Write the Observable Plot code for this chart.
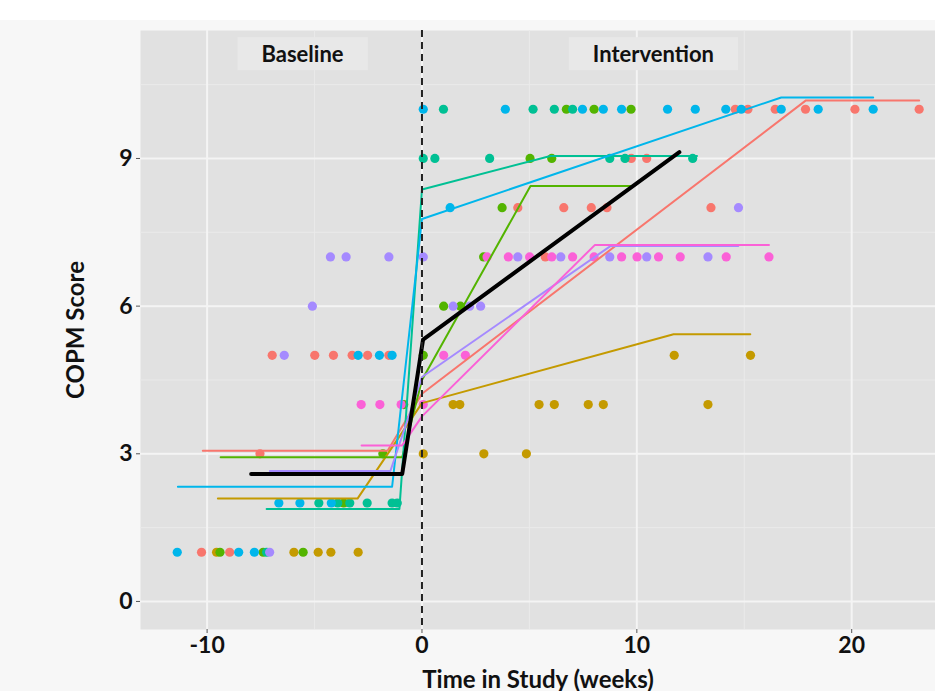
<!DOCTYPE html>
<html><head><meta charset="utf-8">
<script src="https://cdn.jsdelivr.net/npm/d3@7"></script>
<script src="https://cdn.jsdelivr.net/npm/@observablehq/plot@0.6"></script>
<style>
html,body{margin:0;padding:0;background:#fff;}
#wrap{position:absolute;left:0;top:20px;width:935px;height:671px;background:#f7f7f7;overflow:hidden;}
</style></head><body><div id="wrap"></div>
<script>
// participants & colours (ggplot hue palette)
const participants = ["P1","P2","P3","P4","P5","P6","P7"];
const colors = ["#F8766D","#C49A00","#53B400","#00C094","#00B6EB","#A58AFF","#FB61D7"];

// observed COPM scores: [week, score]
const p1Obs = [[-10.26,1],[-8.95,1],[-7.54,3],[-6.97,5],[-4.99,5],[-4.12,5],[-3.25,5],[-2.53,5],[-1.54,5],[4.46,8],[5.74,7],[6.6,8],[7.88,8],[8.61,8],[9.74,9],[10.46,9],[13.45,8],[14.58,10],[15.17,10],[16.44,10],[17.85,10],[20.15,10],[23.14,10]];
const p2Obs = [[-9.56,1],[-5.96,1],[-4.83,1],[-4.24,1],[-2.97,1],[0.06,3],[1.45,4],[1.76,4],[2.88,3],[4.86,3],[5.45,4],[6.16,4],[7.74,4],[8.44,4],[11.74,5],[13.31,4],[15.29,5]];
const p3Obs = [[-9.40,1],[-7.39,1],[-5.53,1],[-3.64,2],[-1.82,3],[-0.85,4],[0.06,5],[1.01,6],[1.79,6],[2.87,7],[3.73,8],[5.03,9],[6.04,9],[6.72,10],[8.01,10],[9.73,10]];
const p4Obs = [[-7.23,1],[-4.80,2],[-3.92,2],[-3.36,2],[-2.55,2],[-1.39,2],[-1.15,2],[0.06,9],[0.6,9],[1.0,10],[3.15,9],[5.17,10],[6.16,10],[7.01,10],[8.74,9],[9.45,9],[12.6,9]];
const p5Obs = [[-11.39,1],[-8.53,1],[-7.80,1],[-6.66,2],[-5.68,2],[-4.22,2],[-2.97,5],[-1.98,5],[-1.39,5],[0.06,10],[1.31,8],[3.88,10],[7.47,10],[8.44,10],[9.29,10],[11.43,10],[12.72,10],[14.14,10],[14.86,10],[16.72,10],[18.44,10],[21.0,10]];
const p6Obs = [[-7.09,1],[-6.41,5],[-5.1,6],[-4.26,7],[-3.53,7],[-1.54,7],[0.06,7],[1.45,6],[2.22,6],[2.73,6],[4.46,7],[6.46,7],[8.74,7],[10.46,7],[13.31,7],[14.73,8]];
const p7Obs = [[-2.83,4],[-1.96,4],[-0.97,4],[0.06,4],[1.01,5],[2.02,5],[3.03,7],[4.02,7],[5.01,7],[6.04,7],[7.01,7],[8.01,7],[9.29,7],[10.01,7],[11.01,7],[12.02,7],[14.16,7],[16.15,7]];

// fitted trajectories: [week, score]
const p1Fit = [[-10.2,3.06],[-1.6,3.06],[0,4.22],[17.87,10.18],[23.14,10.18]];
const p2Fit = [[-9.5,2.09],[-3.0,2.09],[0,4.03],[11.71,5.43],[15.28,5.43]];
const p3Fit = [[-9.37,2.93],[-0.92,2.93],[0,4.5],[5.05,8.44],[9.7,8.44]];
const p4Fit = [[-7.23,1.88],[-1.05,1.88],[0,8.37],[5.98,9.05],[12.8,9.05]];
const p5Fit = [[-11.36,2.33],[-1.39,2.33],[0,7.77],[16.72,10.24],[21.0,10.24]];
const p6Fit = [[-7.08,2.65],[-1.47,2.65],[0,4.56],[8.77,7.22],[14.72,7.22]];
const p7Fit = [[-2.81,3.17],[-0.92,3.17],[0,3.76],[8.04,7.24],[16.15,7.24]];
const meanFit = [[-7.95,2.59],[-0.92,2.59],[0.05,5.32],[11.98,9.13]];

// axes
const xTicks = [-10, 0, 10, 20];
const yTicks = [0, 3, 6, 9];
const xMinor = [-5, 5, 15];
const yMinor = [1.5, 4.5, 7.5, 10.5];
const phaseNames = ["Baseline", "Intervention"];
const phaseX = [-5.56, 10.77];
const phaseY = [11.1, 11.1];
const interventionStart = [0];

const obsAll = [p1Obs,p2Obs,p3Obs,p4Obs,p5Obs,p6Obs,p7Obs];
const fitAll = [p1Fit,p2Fit,p3Fit,p4Fit,p5Fit,p6Fit,p7Fit];
const points = participants.flatMap((p,i) => obsAll[i].map(([t,s]) => ({p,t,s})));
const fits = participants.flatMap((p,i) => fitAll[i].map(([t,s]) => ({p,t,s})));
const mean = meanFit.map(([t,s]) => ({t,s}));
const phases = phaseNames.map((name,i) => ({name, x: phaseX[i], y: phaseY[i]}));

const plot = Plot.plot({
  width: 935, height: 671,
  marginTop: 10, marginBottom: 62, marginLeft: 140, marginRight: 0,
  style: {background: "transparent", fontFamily: "Lato, 'Open Sans', sans-serif", fontSize: "20px", fontWeight: "bold", color: "#111"},
  x: {domain: [-13.1, 23.9]},
  y: {domain: [-0.57, 11.6]},
  color: {domain: participants, range: colors},
  marks: [
    Plot.frame({fill: "#e1e1e1", stroke: "none"}),
    Plot.gridX(xMinor, {stroke: "#eaeaea", strokeOpacity: 1, strokeWidth: 1}),
    Plot.gridY(yMinor, {stroke: "#eaeaea", strokeOpacity: 1, strokeWidth: 1}),
    Plot.gridX(xTicks, {stroke: "#f4f4f4", strokeOpacity: 1, strokeWidth: 2}),
    Plot.gridY(yTicks, {stroke: "#f4f4f4", strokeOpacity: 1, strokeWidth: 2}),
    Plot.axisX(xTicks, {tickSize: 4, tickPadding: 3, stroke: "#555", fill: "#111", fontSize: 23, fontWeight: "bold",
      tickFormat: d => `${d}`, label: null}),
    Plot.axisY(yTicks, {tickSize: 4, tickPadding: 4, stroke: "#555", fill: "#111", fontSize: 23, fontWeight: "bold",
      tickFormat: d => `${d}`, label: null}),
    Plot.axisX({ticks: [], tickSize: 0, label: "Time in Study (weeks)", labelAnchor: "center", labelOffset: 58, labelArrow: "none", fontSize: 24, fontWeight: "bold", fill: "#111"}),
    Plot.axisY({ticks: [], tickSize: 0, label: "COPM Score", labelAnchor: "center", labelOffset: 74, labelArrow: "none", fontSize: 24, fontWeight: "bold", fill: "#111"}),
    Plot.dot(points, {x: "t", y: "s", fill: "p", r: 4.6, stroke: "none"}),
    Plot.line(fits, {x: "t", y: "s", z: "p", stroke: "p", strokeWidth: 2}),
    Plot.line(mean, {x: "t", y: "s", stroke: "black", strokeWidth: 4}),
    Plot.ruleX(interventionStart, {stroke: "#222", strokeWidth: 2, strokeDasharray: "7,5"}),
    Plot.text(phases, {x: "x", y: "y", text: "name", fontSize: 22, fontWeight: "bold", fill: "#111"})
  ]
});
document.getElementById("wrap").appendChild(plot);

// light label boxes behind the phase labels
const svgRect = plot.getBoundingClientRect();
plot.querySelectorAll("text").forEach(t => {
  if (!phaseNames.includes(t.textContent)) return;
  const b = t.getBoundingClientRect();
  const r = document.createElementNS("http://www.w3.org/2000/svg", "rect");
  r.setAttribute("x", b.left - svgRect.left - 24);
  r.setAttribute("y", b.top - svgRect.top - 3);
  r.setAttribute("width", b.width + 48);
  r.setAttribute("height", b.height + 6);
  r.setAttribute("fill", "#e8e8e8");
  const g = t.closest("g");
  g.parentNode.insertBefore(r, g);
});
</script></body></html>
